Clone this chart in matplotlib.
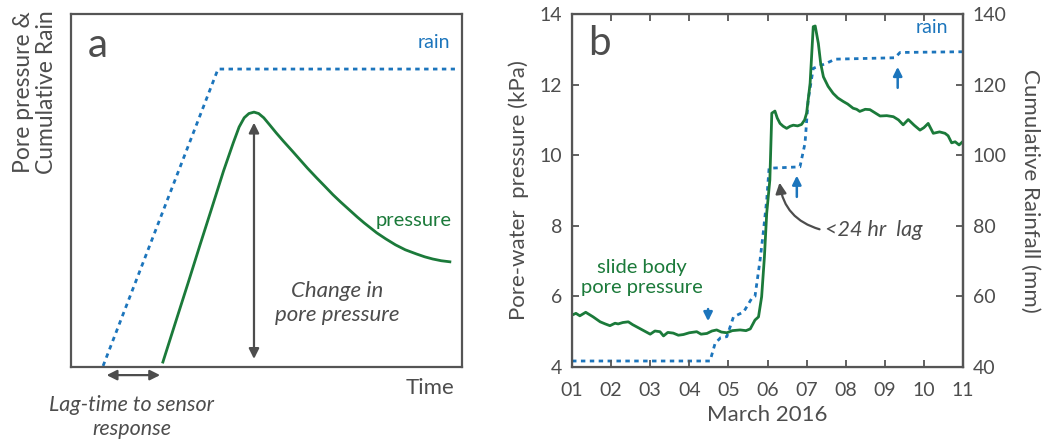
import matplotlib.pyplot as plt

plt.rcParams['font.family'] = ['Lato', 'DejaVu Sans']

GRAY = '#4d4d4d'
GREEN = '#1b7a3a'
BLUE = '#1c75bc'

# ---- panel a: conceptual sketch (arbitrary units 0-100) ----
a_rain_x = [8.2, 37.6, 98.2]
a_rain_y = [0.3, 84.4, 84.4]
a_pres_x = [23.5, 27, 30, 33, 36, 39, 41.5, 43, 44.3, 45.5, 46.8, 48, 49.3, 50.8,
            52.5, 54.3, 56.5, 58.5, 60.5, 62.8, 65, 67, 69, 71.4, 73.2, 75, 76.6,
            78.2, 80.5, 83, 85.5, 88.4, 90.5, 92.5, 94.7, 96.9]
a_pres_y = [1.4, 13.6, 24, 34.6, 45, 55.5, 63.5, 68, 70.6, 71.8, 72.2, 71.8, 70.6, 68.6,
            66.3, 64, 61.3, 58.8, 56.3, 53.6, 51.1, 48.8, 46.7, 44.3, 42.5, 40.8, 39.4,
            38.0, 36.3, 34.6, 33.2, 32.0, 31.2, 30.6, 30.1, 29.8]

# ---- panel b: March 2016 record ----
pres_day = [1.0, 1.1, 1.2, 1.35, 1.54, 1.72, 1.85, 1.97, 2.1, 2.18, 2.3, 2.44, 2.55,
            2.65, 2.8, 3.0, 3.12, 3.25, 3.34, 3.45, 3.59, 3.72, 3.85, 4.0, 4.19,
            4.3, 4.45, 4.58, 4.7, 4.82, 4.96, 5.1, 5.3, 5.45, 5.56, 5.68, 5.77,
            5.85, 5.92, 5.98, 6.06, 6.11, 6.19, 6.25, 6.32, 6.4, 6.49, 6.58, 6.66,
            6.77, 6.87, 6.95, 7.0, 7.09, 7.17, 7.22, 7.3, 7.36, 7.43, 7.55, 7.68,
            7.8, 7.94, 8.05, 8.19, 8.28, 8.36, 8.5, 8.62, 8.75, 8.88, 9.05, 9.22,
            9.35, 9.47, 9.6, 9.75, 9.9, 10.0, 10.11, 10.24, 10.4, 10.54, 10.62,
            10.71, 10.8, 10.9, 11.0]
pres_kpa = [5.47, 5.52, 5.45, 5.55, 5.42, 5.28, 5.22, 5.17, 5.24, 5.22, 5.26, 5.28, 5.2,
            5.14, 5.05, 4.93, 5.02, 5.0, 4.88, 4.98, 4.96, 4.9, 4.92, 4.97, 5.0,
            4.93, 4.95, 5.02, 5.05, 4.99, 4.97, 5.03, 5.05, 5.03, 5.08, 5.33, 5.42,
            5.99, 7.1, 8.36, 9.3, 11.19, 11.25, 11.05, 10.9, 10.82, 10.76, 10.82, 10.85,
            10.83, 10.87, 11.0, 11.19, 12.04, 13.64, 13.66, 13.17, 12.6, 12.22, 11.95, 11.75,
            11.62, 11.52, 11.45, 11.33, 11.3, 11.24, 11.3, 11.29, 11.2, 11.11, 11.12, 11.09,
            11.0, 10.86, 11.01, 10.85, 10.71, 10.78, 10.9, 10.62, 10.66, 10.62, 10.55,
            10.35, 10.38, 10.29, 10.39]

rain_day = [1.0, 4.53, 4.66, 4.8, 4.96, 5.13, 5.39, 5.6, 5.68, 5.81, 5.89, 5.98, 6.04,
            6.83, 6.96, 7.04, 7.17, 7.5, 7.73, 9.26, 9.39, 11.0]
rain_mm = [41.7, 41.7, 46.7, 48.3, 48.6, 54.2, 55.6, 59.5, 60.0, 70.3, 77.9, 87.3, 96.3,
           96.7, 103.4, 115.6, 124.6, 126.0, 127.2, 127.6, 129.1, 129.3]

day_ticks = [1, 2, 3, 4, 5, 6, 7, 8, 9, 10, 11]
day_labels = ['01', '02', '03', '04', '05', '06', '07', '08', '09', '10', '11']

fig = plt.figure(figsize=(10.49, 4.41), dpi=100)
ax_a = fig.add_axes([0.0677, 0.1678, 0.3727, 0.8005])
ax_b = fig.add_axes([0.5453, 0.1678, 0.3727, 0.8005])

for ax in (ax_a, ax_b):
    for s in ax.spines.values():
        s.set_color('#555555')
        s.set_linewidth(1.6)

# panel a
ax_a.plot(a_rain_x, a_rain_y, color=BLUE, lw=2, ls=(0, (1.6, 1.6)))
ax_a.plot(a_pres_x, a_pres_y, color=GREEN, lw=2)
ax_a.set_xlim(0, 100)
ax_a.set_ylim(0, 100)
ax_a.set_xticks([])
ax_a.set_yticks([])
ax_a.annotate('', xy=(46.8, 70), xytext=(46.8, 1.5),
              arrowprops=dict(arrowstyle='<|-|>', color=GRAY, lw=1.6, mutation_scale=15))
ax_a.annotate('', xy=(8.4, -2.3), xytext=(23.5, -2.3), annotation_clip=False,
              arrowprops=dict(arrowstyle='<|-|>', color=GRAY, lw=1.6, mutation_scale=15))
ax_a.text(4.3, 87.8, 'a', fontsize=29, color=GRAY)
ax_a.text(97, 90.4, 'rain', fontsize=14, color=BLUE, ha='right')
ax_a.text(97.4, 41.5, 'pressure', fontsize=14.5, color=GREEN, ha='right', va='center')
ax_a.text(68, 18, 'Change in\npore pressure', fontsize=16, color=GRAY, style='italic',
          ha='center', va='center', linespacing=1.25)
ax_a.text(98, -6, 'Time', fontsize=16, color=GRAY, ha='right', va='center')
ax_a.text(15.5, -14.3, 'Lag-time to sensor\nresponse', fontsize=15.5, color=GRAY,
          style='italic', ha='center', va='center', linespacing=1.25, clip_on=False)
ax_a.text(-0.092, 0.78, 'Pore pressure &\nCumulative Rain', transform=ax_a.transAxes,
          rotation=90, fontsize=16.5, color=GRAY, ha='center', va='center', linespacing=1.1)

# panel b
ax_r = ax_b.twinx()
ax_r.plot(rain_day, rain_mm, color=BLUE, lw=2, ls=(0, (1.6, 1.6)))
ax_r.set_ylim(40, 140)
ax_r.set_yticks([40, 60, 80, 100, 120, 140])
ax_b.plot(pres_day, pres_kpa, color=GREEN, lw=2)
ax_b.set_zorder(ax_r.get_zorder() + 1)
ax_b.patch.set_visible(False)
ax_b.set_xlim(1, 11)
ax_b.set_ylim(4, 14)
ax_b.set_yticks([4, 6, 8, 10, 12, 14])
ax_b.set_xticks(day_ticks)
ax_b.set_xticklabels(day_labels)
ax_b.tick_params(axis='x', top=True)
for ax in (ax_b, ax_r):
    ax.tick_params(direction='in', length=5, width=1.3, color='#555555',
                   labelsize=14, labelcolor=GRAY, pad=7)
ax_b.tick_params(axis='x', pad=11)
ax_r.spines['right'].set_color('#555555')
ax_r.spines['right'].set_linewidth(1.6)
ax_b.set_xlabel('March 2016', fontsize=16, color=GRAY, labelpad=4)
ax_b.set_ylabel('Pore-water  pressure (kPa)', fontsize=16, color=GRAY, labelpad=8)
ax_r.set_ylabel('Cumulative Rainfall (mm)', fontsize=16, color=GRAY, rotation=270,
                labelpad=24)

ax_b.text(1.42, 12.84, 'b', fontsize=29, color=GRAY)
ax_b.text(10.2, 13.46, 'rain', fontsize=14, color=BLUE, ha='center')
ax_b.text(2.78, 6.53, 'slide body\npore pressure', fontsize=14.5, color=GREEN,
          ha='center', va='center', linespacing=1.25)
ax_b.text(7.47, 7.88, '<24 hr  lag', fontsize=15.5, color=GRAY, style='italic', va='center')
ax_b.annotate('', xy=(6.3, 9.3), xytext=(7.4, 7.88),
              arrowprops=dict(arrowstyle='-|>', color=GRAY, lw=1.6, mutation_scale=16,
                              connectionstyle='arc3,rad=-0.35'))
ax_b.annotate('', xy=(4.48, 5.22), xytext=(4.48, 5.72),
              arrowprops=dict(arrowstyle='-|>', color=BLUE, lw=1.8, mutation_scale=13))
ax_b.annotate('', xy=(6.75, 9.5), xytext=(6.75, 8.74),
              arrowprops=dict(arrowstyle='-|>', color=BLUE, lw=1.8, mutation_scale=13))
ax_b.annotate('', xy=(9.33, 12.58), xytext=(9.33, 11.83),
              arrowprops=dict(arrowstyle='-|>', color=BLUE, lw=1.8, mutation_scale=13))

plt.savefig('out.png', dpi=100)
